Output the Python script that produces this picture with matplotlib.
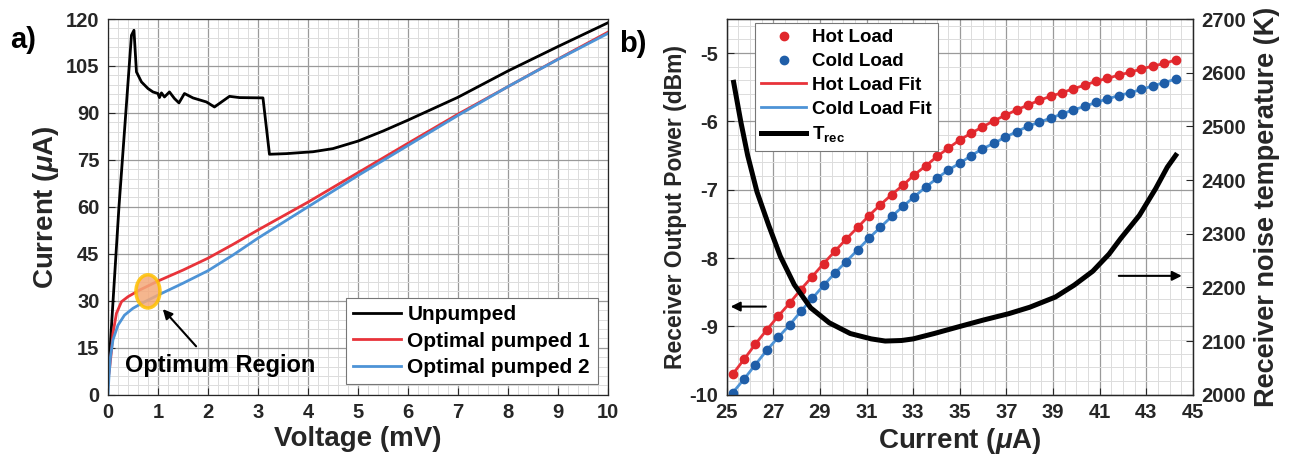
import matplotlib
matplotlib.use("Agg")
import matplotlib.pyplot as plt
from matplotlib.lines import Line2D
from matplotlib.patches import Ellipse
from matplotlib.ticker import MultipleLocator

plt.rcParams['font.family'] = ['Liberation Sans', 'DejaVu Sans']
plt.rcParams['font.weight'] = 'bold'
plt.rcParams['axes.labelweight'] = 'bold'
plt.rcParams['axes.unicode_minus'] = False
plt.rcParams['mathtext.fontset'] = 'custom'
plt.rcParams['mathtext.rm'] = 'Liberation Sans:bold'
plt.rcParams['mathtext.it'] = 'Liberation Sans:italic:bold'

TEXT = '#262626'

# ---- panel a) I-V curves ----
unpumped_v = [0.0, 0.22, 0.47, 0.52, 0.57, 0.67, 0.8, 0.9, 1.0, 1.03, 1.07, 1.13,
              1.23, 1.33, 1.42, 1.53, 1.7, 1.97, 2.13, 2.43, 2.63, 3.1, 3.23, 3.57,
              4.1, 4.5, 5.0, 5.5, 6.0, 7.0, 8.0, 9.0, 10.0]
unpumped_i = [4.0, 60.0, 114.8, 116.4, 103.1, 99.9, 97.8, 96.7, 96.2, 94.9, 96.4, 95.1,
              96.7, 94.6, 93.2, 96.2, 94.8, 93.5, 91.9, 95.3, 94.9, 94.8, 76.8, 77.0,
              77.6, 78.6, 81.0, 84.2, 87.7, 95.0, 103.4, 111.2, 118.8]

pumped1_v = [0.0, 0.03, 0.07, 0.1, 0.17, 0.27, 0.4, 0.63, 1.0, 1.5, 2.0, 2.5, 3.0,
             4.0, 5.0, 6.0, 7.0, 8.0, 9.0, 10.0]
pumped1_i = [4.7, 8.0, 14.0, 19.6, 26.0, 29.7, 31.3, 33.4, 36.3, 39.8, 43.6, 48.0, 52.6,
             61.5, 70.9, 80.3, 89.6, 98.4, 107.2, 115.8]

pumped2_v = [0.0, 0.02, 0.05, 0.1, 0.2, 0.33, 0.5, 0.7, 1.0, 1.5, 2.0, 2.5, 3.0,
             4.0, 5.0, 6.0, 7.0, 8.0, 9.0, 10.0]
pumped2_i = [0.0, 5.7, 12.1, 17.5, 22.2, 25.4, 27.6, 29.4, 31.8, 35.6, 39.6, 44.6, 50.0,
             60.0, 70.0, 79.6, 89.2, 98.4, 107.1, 115.4]

# ---- panel b) Y-factor measurement ----
bias_current = [25.26, 25.75, 26.23, 26.72, 27.21, 27.70, 28.18, 28.67, 29.16, 29.64,
                30.13, 30.62, 31.10, 31.59, 32.08, 32.57, 33.05, 33.54, 34.03, 34.51,
                35.00, 35.49, 35.97, 36.46, 36.95, 37.44, 37.92, 38.41, 38.90, 39.38,
                39.87, 40.36, 40.84, 41.33, 41.82, 42.31, 42.79, 43.28, 43.77, 44.26]
hot_power = [-9.70, -9.48, -9.26, -9.05, -8.85, -8.66, -8.46, -8.27, -8.08, -7.90,
             -7.72, -7.55, -7.38, -7.22, -7.07, -6.93, -6.78, -6.65, -6.51, -6.39,
             -6.27, -6.17, -6.08, -5.99, -5.91, -5.83, -5.76, -5.69, -5.63, -5.58,
             -5.52, -5.47, -5.41, -5.37, -5.32, -5.28, -5.23, -5.19, -5.15, -5.10]
cold_power = [-9.97, -9.77, -9.56, -9.35, -9.16, -8.98, -8.78, -8.59, -8.40, -8.22,
              -8.05, -7.88, -7.71, -7.55, -7.39, -7.24, -7.10, -6.96, -6.83, -6.71,
              -6.61, -6.50, -6.40, -6.32, -6.23, -6.15, -6.07, -6.01, -5.95, -5.89,
              -5.83, -5.78, -5.72, -5.67, -5.62, -5.58, -5.53, -5.48, -5.43, -5.38]

trec_current = [25.3, 25.6, 25.9, 26.3, 26.8, 27.3, 27.9, 28.6, 29.4, 30.3, 31.2, 31.8,
                32.5, 33.0, 33.9, 34.9, 36.0, 37.1, 38.0, 39.1, 39.9, 40.7, 41.4, 41.9,
                42.7, 43.4, 43.9, 44.26]
trec_temp = [2582, 2510, 2446, 2378, 2316, 2258, 2205, 2162, 2134, 2114, 2104, 2100,
             2101, 2104, 2114, 2126, 2139, 2151, 2163, 2182, 2204, 2230, 2262, 2291,
             2334, 2384, 2424, 2446]

x_ticks_b = [25, 27, 29, 31, 33, 35, 37, 39, 41, 43, 45]

RED_LINE = '#e8333a'
RED_DOT = '#e0262b'
BLUE_LINE = '#4d93d6'
BLUE_DOT = '#1f5ea8'


def style_axes(ax):
    ax.grid(True, which='major', color='#9a9a9a', linewidth=0.9)
    ax.grid(True, which='minor', color='#dcdcdc', linewidth=0.7)
    ax.set_axisbelow(True)
    ax.tick_params(which='both', direction='in', labelsize=14.5, colors=TEXT, pad=6)
    ax.tick_params(which='major', length=5)
    ax.tick_params(which='minor', length=0)
    for sp in ax.spines.values():
        sp.set_color('#262626')
        sp.set_linewidth(0.9)


fig = plt.figure(figsize=(12.96, 4.68), dpi=100)

# panel a
ax_a = fig.add_axes([0.0833, 0.1566, 0.3858, 0.8028])
ax_a.plot(unpumped_v, unpumped_i, color='black', lw=2.0, label='Unpumped')
ax_a.plot(pumped1_v, pumped1_i, color=RED_LINE, lw=2.0, label='Optimal pumped 1')
ax_a.plot(pumped2_v, pumped2_i, color=BLUE_LINE, lw=2.0, label='Optimal pumped 2')
ax_a.set_xlim(0, 10)
ax_a.set_ylim(0, 120)
ax_a.xaxis.set_major_locator(MultipleLocator(1))
ax_a.xaxis.set_minor_locator(MultipleLocator(0.2))
ax_a.yaxis.set_major_locator(MultipleLocator(15))
ax_a.yaxis.set_minor_locator(MultipleLocator(3))
style_axes(ax_a)
ax_a.set_xlabel('Voltage (mV)', fontsize=20, color=TEXT, labelpad=3)
ax_a.set_ylabel(r'Current ($\mu$A)', fontsize=20, color=TEXT, labelpad=4)

ax_a.add_patch(Ellipse((0.8, 33.0), 0.48, 10.6, facecolor='#f4a97a', alpha=0.85,
                       edgecolor='#ffc000', lw=2.5, zorder=5))
ax_a.annotate('', xy=(1.06, 28.0), xytext=(1.8, 14.8),
              arrowprops=dict(arrowstyle='-|>', color='black', lw=1.5,
                              mutation_scale=14), zorder=6)
ax_a.text(2.25, 9.3, 'Optimum Region', fontsize=17, ha='center', va='center',
          color='black', zorder=6)
leg_a = ax_a.legend(loc='lower right', fontsize=15, handlelength=2.3,
                    handletextpad=0.3, labelspacing=0.35, borderpad=0.35,
                    fancybox=False, framealpha=1, edgecolor='#777777',
                    borderaxespad=0.5)
leg_a.get_frame().set_linewidth(0.8)

# panel b
ax_b = fig.add_axes([0.5607, 0.1566, 0.3598, 0.8028])
ax_b.plot(bias_current, hot_power, color=RED_LINE, lw=2.0, zorder=3)
ax_b.plot(bias_current, cold_power, color=BLUE_LINE, lw=2.0, zorder=3)
ax_b.plot(bias_current, hot_power, 'o', color=RED_DOT, ms=6, zorder=4)
ax_b.plot(bias_current, cold_power, 'o', color=BLUE_DOT, ms=6, zorder=4)
ax_b.set_xlim(25, 45)
ax_b.set_ylim(-10, -4.5)
ax_b.set_xticks(x_ticks_b)
ax_b.xaxis.set_minor_locator(MultipleLocator(0.5))
ax_b.yaxis.set_major_locator(MultipleLocator(1))
ax_b.yaxis.set_minor_locator(MultipleLocator(0.2))
style_axes(ax_b)
ax_b.set_xlabel(r'Current ($\mu$A)', fontsize=20, color=TEXT, labelpad=3)
ax_b.set_ylabel('Receiver Output Power (dBm)', fontsize=16.5, color=TEXT, labelpad=2)
ax_b.annotate('', xy=(25.05, -8.71), xytext=(26.8, -8.71),
              arrowprops=dict(arrowstyle='-|>', color='black', lw=1.5, mutation_scale=14))
ax_b.annotate('', xy=(44.64, -8.26), xytext=(41.7, -8.26),
              arrowprops=dict(arrowstyle='-|>', color='black', lw=1.5, mutation_scale=14))

ax_t = ax_b.twinx()
ax_t.plot(trec_current, trec_temp, color='black', lw=3.6)
ax_t.set_ylim(2000, 2700)
ax_t.yaxis.set_major_locator(MultipleLocator(100))
ax_t.tick_params(direction='in', labelsize=14.5, colors=TEXT, length=5, pad=6)
ax_t.set_ylabel('Receiver noise temperature (K)', fontsize=19.5, color=TEXT, labelpad=6)
for sp in ax_t.spines.values():
    sp.set_color('#262626')
    sp.set_linewidth(0.9)

handles = [
    Line2D([], [], ls='none', marker='o', ms=6, color=RED_DOT),
    Line2D([], [], ls='none', marker='o', ms=6, color=BLUE_DOT),
    Line2D([], [], color=RED_LINE, lw=2.0),
    Line2D([], [], color=BLUE_LINE, lw=2.0),
    Line2D([], [], color='black', lw=3.6),
]
labels = ['Hot Load', 'Cold Load', 'Hot Load Fit', 'Cold Load Fit', r'T$_{\mathrm{rec}}$']
leg_b = ax_t.legend(handles, labels, loc='upper left', bbox_to_anchor=(0.06, 0.99),
                    fontsize=13.5, handlelength=2.4, handletextpad=0.3,
                    labelspacing=0.35, borderpad=0.35, fancybox=False, framealpha=1,
                    edgecolor='#777777', borderaxespad=0.0)
leg_b.get_frame().set_linewidth(0.8)

fig.text(0.008, 0.915, 'a)', fontsize=21, color='black', va='center')
fig.text(0.478, 0.905, 'b)', fontsize=21, color='black', va='center')

fig.savefig('out.png', dpi=100)
